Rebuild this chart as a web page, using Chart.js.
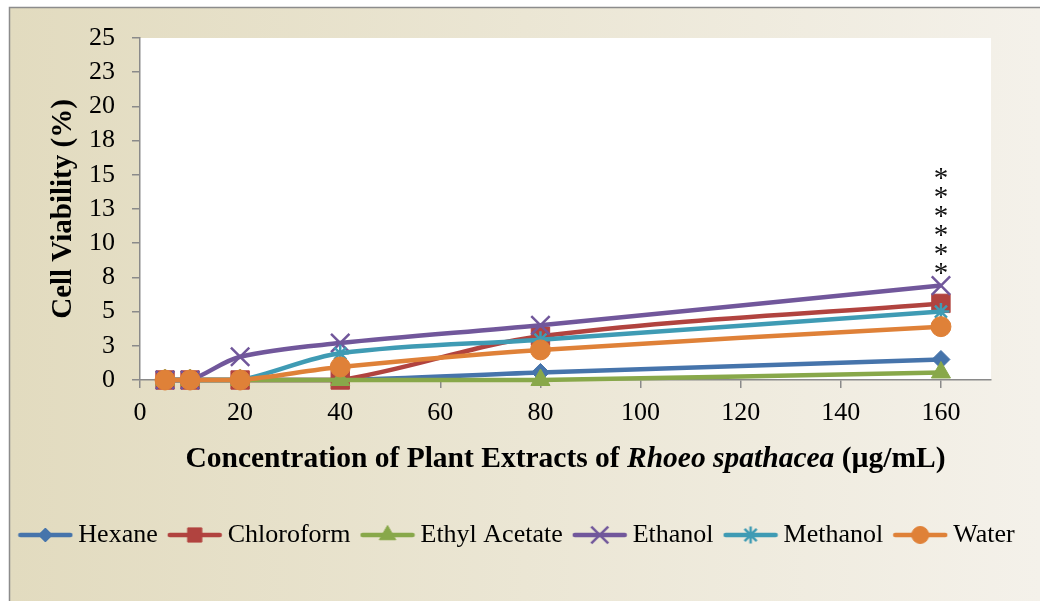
<!DOCTYPE html>
<html>
<head>
<meta charset="utf-8">
<script src="https://cdn.jsdelivr.net/npm/chart.js@4.4.1/dist/chart.umd.min.js"></script>
<style>
  html, body { margin: 0; padding: 0; background: #ffffff; }
  canvas { display: block; }
</style>
</head>
<body>
<canvas id="chart" width="1040" height="601"></canvas>
<script>
// Extract concentrations (µg/mL) and mean cell viability (%) per solvent
const concentrations = [5, 10, 20, 40, 80, 160];
const hexane       = [0, 0, 0, 0, 0.55, 1.5];
const chloroform   = [0, 0, 0, 0, 3.2, 5.6];
const ethylAcetate = [0, 0, 0, 0, 0, 0.55];
const ethanol      = [0, 0, 1.7, 2.7, 4.0, 6.9];
const methanol     = [0, 0, 0, 1.95, 2.95, 5.0];
const water        = [0, 0, 0, 0.95, 2.2, 3.9];

const seriesNames = ['Hexane', 'Chloroform', 'Ethyl Acetate', 'Ethanol', 'Methanol', 'Water'];
const seriesValues = [hexane, chloroform, ethylAcetate, ethanol, methanol, water];

const xTickLabels = ['0', '20', '40', '60', '80', '100', '120', '140', '160'];
const yTickLabels = ['0', '3', '5', '8', '10', '13', '15', '18', '20', '23', '25'];
const yAxisTitle = 'Cell Viability (%)';
const xAxisTitle = [
  { text: 'Concentration of Plant Extracts of ', italic: false },
  { text: 'Rhoeo spathacea', italic: true },
  { text: ' (µg/mL)', italic: false }
];
const significance = '******';
const significanceAt = 160;

// Marker and colour styling for each series
const seriesStyles = [
  { color: '#4674ab', pointStyle: 'rectRot',  radius: 9,   legendRadius: 7,   borderWidth: 1 },
  { color: '#b1433f', pointStyle: 'rect',     radius: 13,  legendRadius: 10,  borderWidth: 1 },
  { color: '#88a84a', pointStyle: 'triangle', radius: 11,  legendRadius: 9.5, borderWidth: 1 },
  { color: '#71579b', pointStyle: 'crossRot', radius: 13,  legendRadius: 12,  borderWidth: 2.5 },
  { color: '#3f9bb4', pointStyle: 'star',     radius: 8.5, legendRadius: 8.5, borderWidth: 2.5 },
  { color: '#df8138', pointStyle: 'circle',   radius: 10,  legendRadius: 8.5, borderWidth: 1 }
];

const SERIF = '"Liberation Serif", "Times New Roman", serif';
const AXIS_GREY = '#8a8a8a';

// Legend swatch: a short line with the series marker in its middle
function makeLegendIcon(style) {
  const c = document.createElement('canvas');
  c.width = 56; c.height = 26;
  const ctx = c.getContext('2d');
  ctx.strokeStyle = style.color;
  ctx.lineWidth = 4.5;
  ctx.lineCap = 'round';
  ctx.beginPath();
  ctx.moveTo(3, 13);
  ctx.lineTo(53, 13);
  ctx.stroke();
  ctx.fillStyle = style.color;
  ctx.strokeStyle = style.color;
  ctx.lineWidth = style.borderWidth;
  ctx.lineCap = 'butt';
  Chart.helpers.drawPoint(ctx, {
    pointStyle: style.pointStyle,
    radius: style.legendRadius,
    borderWidth: style.borderWidth,
    rotation: 0
  }, 28, 13);
  return c;
}
const legendIcons = seriesStyles.map(makeLegendIcon);

const datasets = seriesNames.map((name, i) => {
  const s = seriesStyles[i];
  return {
    label: name,
    data: concentrations.map((x, k) => ({ x: x, y: seriesValues[i][k] })),
    borderColor: s.color,
    backgroundColor: s.color,
    borderWidth: 4.5,
    tension: 0.33,
    pointStyle: s.pointStyle,
    pointRadius: s.radius,
    pointHoverRadius: s.radius,
    pointBorderWidth: s.borderWidth,
    pointBackgroundColor: s.color,
    pointBorderColor: s.color,
    clip: false,
    order: seriesNames.length - 1 - i
  };
});

// Page background, outer frame and white plot area
const backgroundPlugin = {
  id: 'backgroundPlugin',
  beforeDraw(chart) {
    const { ctx, width, height, chartArea } = chart;
    ctx.save();
    ctx.fillStyle = '#ffffff';
    ctx.fillRect(0, 0, width, height);
    const g = ctx.createLinearGradient(10, 0, width, 0);
    g.addColorStop(0, '#e2dbbf');
    g.addColorStop(0.5, '#ebe6d4');
    g.addColorStop(1, '#f4f1ea');
    ctx.fillStyle = g;
    ctx.fillRect(10, 8, width - 10, height - 8);
    ctx.strokeStyle = '#8c8c8c';
    ctx.lineWidth = 1.5;
    ctx.beginPath();
    ctx.moveTo(9.5, height);
    ctx.lineTo(9.5, 7.5);
    ctx.lineTo(width, 7.5);
    ctx.stroke();
    ctx.fillStyle = '#ffffff';
    ctx.fillRect(chartArea.left, chartArea.top, chartArea.right - chartArea.left, chartArea.bottom - chartArea.top);
    ctx.restore();
  }
};

// Horizontal axis title with the species name in italics
const xTitlePlugin = {
  id: 'xTitlePlugin',
  afterDraw(chart) {
    const { ctx, chartArea } = chart;
    const xScale = chart.scales.x;
    ctx.save();
    ctx.fillStyle = '#000000';
    ctx.textBaseline = 'middle';
    ctx.textAlign = 'left';
    const fonts = xAxisTitle.map(p => (p.italic ? 'italic ' : '') + 'bold 29.5px ' + SERIF);
    let total = 0;
    const widths = xAxisTitle.map((p, i) => {
      ctx.font = fonts[i];
      const w = ctx.measureText(p.text).width;
      total += w;
      return w;
    });
    let x = (chartArea.left + chartArea.right) / 2 - total / 2;
    const y = xScale.top + 79;
    xAxisTitle.forEach((p, i) => {
      ctx.font = fonts[i];
      ctx.fillText(p.text, x, y);
      x += widths[i];
    });
    ctx.restore();
  }
};

// Stack of significance asterisks above the ethanol point
const asteriskPlugin = {
  id: 'asteriskPlugin',
  afterDatasetsDraw(chart) {
    const { ctx } = chart;
    const xs = chart.scales.x, ys = chart.scales.y;
    const k = concentrations.indexOf(significanceAt);
    const px = xs.getPixelForValue(significanceAt);
    const py = ys.getPixelForValue(ethanol[k]);
    ctx.save();
    ctx.fillStyle = '#111111';
    ctx.font = '29px ' + SERIF;
    ctx.textAlign = 'center';
    ctx.textBaseline = 'alphabetic';
    const m = ctx.measureText('*');
    const shift = (m.actualBoundingBoxAscent - m.actualBoundingBoxDescent) / 2;
    const chars = significance.split('');
    chars.forEach((ch, i) => {
      const cy = py - 17 - i * 19;
      ctx.fillText(ch, px, cy + shift);
    });
    ctx.restore();
  }
};

new Chart(document.getElementById('chart'), {
  type: 'line',
  data: { datasets: datasets },
  options: {
    responsive: false,
    animation: false,
    devicePixelRatio: 1,
    layout: { padding: { left: 0, right: 0, top: 38, bottom: 43 } },
    scales: {
      x: {
        type: 'linear',
        min: 0,
        max: 170,
        afterBuildTicks: s => { s.ticks = xTickLabels.map(t => ({ value: Number(t) })); },
        afterFit: s => { s.height = 125; },
        ticks: {
          stepSize: 20,
          padding: 10,
          autoSkip: false,
          maxRotation: 0,
          color: '#000000',
          font: { family: SERIF, size: 26 },
          callback: (v, i) => xTickLabels[i]
        },
        grid: { drawOnChartArea: false, drawTicks: true, tickLength: 8, color: AXIS_GREY, lineWidth: 1.5 },
        border: { display: true, color: AXIS_GREY, width: 1.5 },
        title: { display: false }
      },
      y: {
        type: 'linear',
        position: 'left',
        min: 0,
        max: 25,
        afterFit: s => { s.width = 140; },
        ticks: {
          stepSize: 2.5,
          padding: 17,
          autoSkip: false,
          color: '#000000',
          font: { family: SERIF, size: 26 },
          callback: (v, i) => yTickLabels[i]
        },
        grid: { drawOnChartArea: false, drawTicks: true, tickLength: 8, color: AXIS_GREY, lineWidth: 1.5 },
        border: { display: true, color: AXIS_GREY, width: 1.5 },
        title: {
          display: true,
          text: yAxisTitle,
          color: '#000000',
          font: { family: SERIF, size: 29, weight: 'bold' },
          padding: { top: 46, bottom: 0 }
        }
      },
      yRight: {
        type: 'linear',
        position: 'right',
        display: true,
        min: 0,
        max: 1,
        afterFit: s => { s.width = 49; },
        ticks: { display: false },
        grid: { display: false },
        border: { display: false }
      }
    },
    plugins: {
      legend: {
        position: 'bottom',
        labels: {
          usePointStyle: true,
          pointStyleWidth: 40,
          padding: 17,
          color: '#111111',
          font: { family: SERIF, size: 26 },
          generateLabels: chart => chart.data.datasets.map((ds, i) => ({
            text: ds.label,
            pointStyle: legendIcons[i],
            fillStyle: ds.borderColor,
            strokeStyle: ds.borderColor,
            lineWidth: 0,
            hidden: false,
            datasetIndex: i
          }))
        }
      },
      tooltip: { enabled: false }
    }
  },
  plugins: [backgroundPlugin, asteriskPlugin, xTitlePlugin]
});
</script>
</body>
</html>
